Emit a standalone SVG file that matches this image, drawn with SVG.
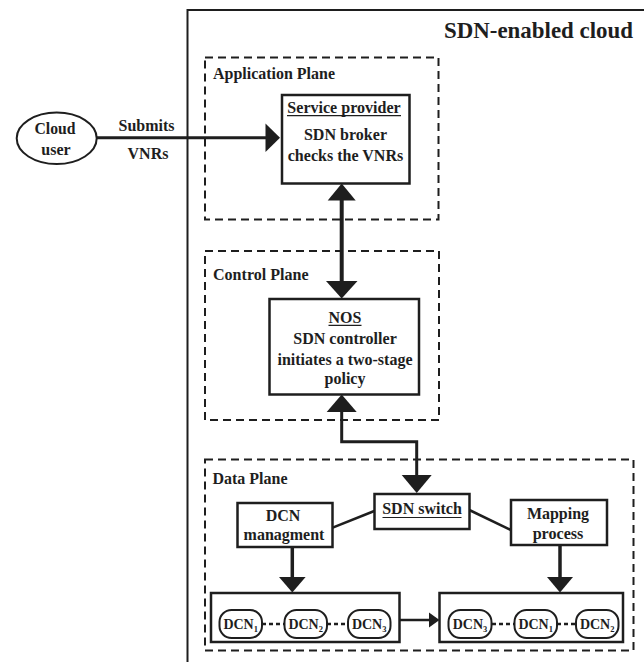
<svg xmlns="http://www.w3.org/2000/svg" width="644" height="662" viewBox="0 0 644 662">
<style>
.t{font-family:"Liberation Serif","Times New Roman",serif;font-weight:bold;font-size:17.5px;fill:#1e1e1e}
.m{text-anchor:middle}
.box{fill:#fff;stroke:#1e1e1e;stroke-width:2.5}
.dash{fill:none;stroke:#1e1e1e;stroke-width:2;stroke-dasharray:8 5}
.pill{fill:#fff;stroke:#1e1e1e;stroke-width:2}
.dot{stroke:#1e1e1e;stroke-width:2.5;stroke-dasharray:4 3}
.ln{fill:none;stroke:#1e1e1e}
.ah{fill:#1e1e1e}
.ul{stroke:#1e1e1e;stroke-width:1.2}
.d{font-size:14px}
.s{font-size:8.5px}
</style>
<rect x="0" y="0" width="644" height="662" fill="#fff"/>
<g id="cloud">
<rect x="187.5" y="10" width="470" height="670" fill="none" stroke="#1e1e1e" stroke-width="2"/>
<text class="t" x="444" y="38" style="font-size:24px" textLength="189" lengthAdjust="spacingAndGlyphs">SDN-enabled cloud</text>
</g>
<g id="app-plane">
<rect class="dash" x="205" y="57.5" width="233.5" height="162"/>
<text class="t" x="213" y="79" textLength="122" lengthAdjust="spacingAndGlyphs">Application Plane</text>
</g>
<g id="control-plane">
<rect class="dash" x="205" y="251" width="234" height="169"/>
<text class="t" x="213" y="280" textLength="95.6" lengthAdjust="spacingAndGlyphs">Control Plane</text>
</g>
<g id="data-plane">
<rect class="dash" x="205" y="459.5" width="428.5" height="191"/>
<text class="t" x="212.5" y="484" textLength="75" lengthAdjust="spacingAndGlyphs">Data Plane</text>
</g>
<g id="connectors">
<line class="ln" x1="96.7" y1="137.7" x2="267" y2="137.7" stroke-width="3"/>
<polygon class="ah" points="265.5,123.5 280,137.7 265.5,152"/>
<text class="t m" x="146.5" y="131" textLength="56" lengthAdjust="spacingAndGlyphs">Submits</text>
<text class="t m" x="148" y="159" textLength="40.9" lengthAdjust="spacingAndGlyphs">VNRs</text>
<line class="ln" x1="341.7" y1="199" x2="341.7" y2="282" stroke-width="4"/>
<polygon class="ah" points="341.7,183.5 327.7,200.5 355.7,200.5"/>
<polygon class="ah" points="341.7,298.5 326,281 357.5,281"/>
<path class="ln" d="M341.7 411 V441.7 H416.7 V476" stroke-width="3"/>
<polygon class="ah" points="341.7,394.5 326.7,412 356.7,412"/>
<polygon class="ah" points="401.7,475 431.7,475 416.7,493"/>
<line class="ln" x1="332.7" y1="527.7" x2="374.3" y2="511" stroke-width="2.5"/>
<line class="ln" x1="469.3" y1="510" x2="511" y2="530" stroke-width="2.5"/>
<line class="ln" x1="292.3" y1="547" x2="292.3" y2="578" stroke-width="3.5"/>
<polygon class="ah" points="279,577 305.6,577 292.3,592.5"/>
<line class="ln" x1="560" y1="545" x2="560" y2="578" stroke-width="3.5"/>
<polygon class="ah" points="547,577 573,577 560,592.5"/>
<line class="ln" x1="399" y1="620" x2="430" y2="620" stroke-width="2.5"/>
<polygon class="ah" points="429,612.5 439.5,620 429,627.5"/>
</g>
<g id="cloud-user">
<ellipse cx="56.7" cy="138.3" rx="40" ry="25.7" fill="#fff" stroke="#1e1e1e" stroke-width="2"/>
<text class="t m" x="55" y="133.5" textLength="41" lengthAdjust="spacingAndGlyphs">Cloud</text>
<text class="t m" x="56" y="154.5" textLength="29.3" lengthAdjust="spacingAndGlyphs">user</text>
</g>
<g id="service-provider">
<rect class="box" x="282" y="95" width="127.5" height="88.5"/>
<text class="t m" x="344" y="113" textLength="113.3" lengthAdjust="spacingAndGlyphs">Service provider</text>
<line class="ul" x1="287" y1="115.6" x2="401" y2="115.6"/>
<text class="t m" x="345.5" y="139.5" textLength="83.1" lengthAdjust="spacingAndGlyphs">SDN broker</text>
<text class="t m" x="345.5" y="160.5" textLength="115.5" lengthAdjust="spacingAndGlyphs">checks the VNRs</text>
</g>
<g id="nos">
<rect class="box" x="269.5" y="299" width="149.5" height="95.5"/>
<text class="t m" x="345" y="322.5" textLength="32.9" lengthAdjust="spacingAndGlyphs">NOS</text>
<line class="ul" x1="328.5" y1="325.3" x2="361.5" y2="325.3"/>
<text class="t m" x="345" y="344" textLength="103.5" lengthAdjust="spacingAndGlyphs">SDN controller</text>
<text class="t m" x="345" y="364.5" textLength="135.1" lengthAdjust="spacingAndGlyphs">initiates a two-stage</text>
<text class="t m" x="345" y="384" textLength="40.9" lengthAdjust="spacingAndGlyphs">policy</text>
</g>
<g id="sdn-switch">
<rect class="box" x="374.5" y="494" width="95" height="35"/>
<text class="t m" x="422" y="514" textLength="79.6" lengthAdjust="spacingAndGlyphs">SDN switch</text>
<line class="ul" x1="382.5" y1="517.5" x2="461.5" y2="517.5"/>
</g>
<g id="dcn-management">
<rect class="box" x="237.5" y="503" width="95" height="44"/>
<text class="t m" x="283" y="520.5" textLength="34.7" lengthAdjust="spacingAndGlyphs">DCN</text>
<text class="t m" x="284" y="540" textLength="80.9" lengthAdjust="spacingAndGlyphs">managment</text>
</g>
<g id="mapping-process">
<rect class="box" x="511" y="500" width="96" height="45"/>
<text class="t m" x="558" y="518.5" style="font-size:17px" textLength="62.2" lengthAdjust="spacingAndGlyphs">Mapping</text>
<text class="t m" x="558" y="538.5" style="font-size:17px" textLength="50.7" lengthAdjust="spacingAndGlyphs">process</text>
</g>
<g id="dcn-initial">
<rect class="box" x="211" y="593" width="188.5" height="49"/>
<line class="dot" x1="262" y1="624" x2="284" y2="624"/>
<line class="dot" x1="327" y1="624" x2="348" y2="624"/>
<rect class="pill" x="219.5" y="610" width="42.5" height="28" rx="12"/>
<text class="t m d" x="240.7" y="628.5">DCN<tspan class="s" dy="3">1</tspan></text>
<rect class="pill" x="284.5" y="610" width="42.5" height="28" rx="12"/>
<text class="t m d" x="305.7" y="628.5">DCN<tspan class="s" dy="3">2</tspan></text>
<rect class="pill" x="348" y="610" width="42.5" height="28" rx="12"/>
<text class="t m d" x="369.2" y="628.5">DCN<tspan class="s" dy="3">3</tspan></text>
</g>
<g id="dcn-mapped">
<rect class="box" x="439.5" y="593" width="183.5" height="49"/>
<line class="dot" x1="492" y1="624" x2="514" y2="624"/>
<line class="dot" x1="557" y1="624" x2="576" y2="624"/>
<rect class="pill" x="448.5" y="610" width="43" height="28" rx="12"/>
<text class="t m d" x="470" y="628.5">DCN<tspan class="s" dy="3">3</tspan></text>
<rect class="pill" x="514.5" y="610" width="42.5" height="28" rx="12"/>
<text class="t m d" x="535.7" y="628.5">DCN<tspan class="s" dy="3">1</tspan></text>
<rect class="pill" x="576" y="610" width="42.5" height="28" rx="12"/>
<text class="t m d" x="597.2" y="628.5">DCN<tspan class="s" dy="3">2</tspan></text>
</g>
</svg>
